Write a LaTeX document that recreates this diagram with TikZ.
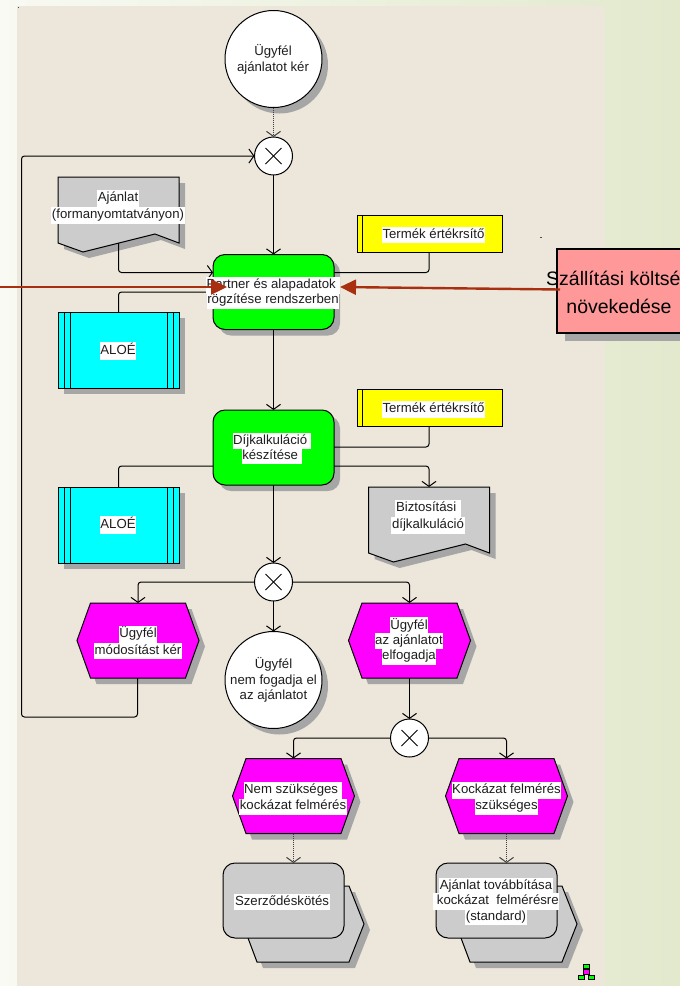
\documentclass[tikz,border=0pt]{standalone}
\usepackage{fontspec}
\setmainfont{Liberation Sans}
\usetikzlibrary{arrows.meta,shadows,calc}
\definecolor{canvasbeige}{HTML}{EDE7DB}
\definecolor{pagegreen}{HTML}{E2E9CD}
\definecolor{pagepale}{HTML}{F8FAF3}
\definecolor{shadowgray}{HTML}{A6A6A6}
\definecolor{docgray}{HTML}{CCCCCC}
\definecolor{txtdark}{HTML}{1E1E1E}
\definecolor{redline}{HTML}{A83010}
\definecolor{riskpink}{HTML}{FF9999}
\definecolor{purecyan}{RGB}{0,255,255}
\definecolor{puremagenta}{RGB}{255,0,255}
\definecolor{pureyellow}{RGB}{255,255,0}
\definecolor{puregreen}{RGB}{0,255,0}
\newcommand{\hl}[1]{{\setlength{\fboxsep}{0.6pt}\colorbox{white}{\strut #1}}}
\tikzset{
  x=1pt,y=-1pt,
  shdw/.style={drop shadow={shadow xshift=6pt,shadow yshift=-6pt,fill=shadowgray,opacity=1}},
  outline/.style={draw=black,line width=1pt},
  riskbox/.style={draw=black,line width=1.3pt,drop shadow={shadow xshift=8pt,shadow yshift=-8pt,fill=shadowgray,opacity=1},rectangle,inner sep=0pt,outer sep=0pt,fill=riskpink,minimum width=124pt,minimum height=84pt},
  plainnode/.style={rectangle,draw=none,inner sep=0pt,outer sep=0pt,minimum width=121pt,minimum height=75pt},
  eventcircle/.style={outline,shdw,circle,fill=white,minimum size=97pt,inner sep=0pt,outer sep=0pt},
  xorcircle/.style={outline,circle,fill=white,minimum size=38pt,inner sep=0pt,outer sep=0pt},
  funcbox/.style={outline,shdw,rectangle,rounded corners=12pt,fill=puregreen,minimum width=121pt,minimum height=75pt,inner sep=0pt,outer sep=0pt},
  stackbox/.style={outline,rectangle,rounded corners=12pt,fill=docgray,minimum width=121pt,minimum height=75pt,inner sep=0pt,outer sep=0pt},
  systembox/.style={outline,shdw,rectangle,fill=purecyan,minimum width=121pt,minimum height=76pt,inner sep=0pt,outer sep=0pt},
  orgbox/.style={outline,rectangle,fill=pureyellow,minimum width=145pt,minimum height=37pt,inner sep=0pt,outer sep=0pt},
  hexshape/.style={outline,shdw,fill=puremagenta},
  docshape/.style={outline,shdw,fill=docgray},
  stackshape/.style={outline,shdw,fill=docgray},
  lbl/.style={font=\fontsize{13.2}{15.5}\selectfont,text=txtdark,align=center,inner sep=0pt},
  biglbl/.style={font=\fontsize{19.5}{22}\selectfont,text=black,inner sep=0pt},
  conn/.style={draw=black,line width=1pt,rounded corners=3pt},
  arr/.style={conn,-{Straight Barb[length=5pt,width=14pt,line width=1pt]}},
  dotarr/.style={arr,draw=black!75,densely dotted,line width=0.7pt},
  redarr/.style={draw=redline,line width=2.4pt,-{Triangle[length=16pt,width=15pt,fill=redline]}},
  speck/.style={fill=black!70,draw=none}
}
\begin{document}
\begin{tikzpicture}
\useasboundingbox (0,0) rectangle (680,986);
\clip (0,0) rectangle (680,986);
\shade[left color=pagepale,right color=pagegreen] (0,0) rectangle (680,986);
\fill[canvasbeige] (17,6) rectangle (605,986);
\fill[speck] (17.5,6.5) rectangle (19,7.5);
\fill[speck] (540,237) rectangle (541.5,238);

\coordinate (loopA) at (137.5,678);
\coordinate (loopB) at (21.5,717);

% events and gateways
\node[eventcircle] (evstart) at (273.5,59) {};
\node[xorcircle] (xorone) at (273.5,156) {};
\node[funcbox] (funcone) at (273.5,292) {};
\node[funcbox] (functwo) at (273.5,447.5) {};
\node[orgbox] (orgone) at (429.5,233.5) {};
\node[orgbox] (orgtwo) at (429.5,408) {};
\draw[outline] (362.5,215) -- (362.5,252);
\draw[outline] (362.5,389.5) -- (362.5,426.5);
\node[systembox] (sysone) at (118.5,350) {};
\node[systembox] (systwo) at (118.5,525) {};
\foreach \yy in {350,525}{
  \draw[outline] (64.5,\yy-38) -- (64.5,\yy+38);
  \draw[outline] (70,\yy-38) -- (70,\yy+38);
  \draw[outline] (167.5,\yy-38) -- (167.5,\yy+38);
  \draw[outline] (173,\yy-38) -- (173,\yy+38);
}
% documents
\node[plainnode] (docone) at (118.5,214.5) {};
\draw[docshape,shift={(118.5,214.5)}] (-60.5,-37.5) -- (60.5,-37.5) -- (60.5,28.5) -- (36.5,19.5) -- (-35.5,37.5) -- (-60.5,28.5) -- cycle;
\node[plainnode] (doctwo) at (429,524.5) {};
\draw[docshape,shift={(429,524.5)}] (-60.5,-37.5) -- (60.5,-37.5) -- (60.5,28.5) -- (36.5,19.5) -- (-35.5,37.5) -- (-60.5,28.5) -- cycle;

\node[xorcircle] (xortwo) at (273.5,582) {};
\node[eventcircle] (evreject) at (273.5,680) {};
\node[xorcircle] (xorthree) at (409.5,738) {};

% hexagon events
\foreach \nm/\cx/\cy in {hexmod/138/640.5,hexacc/409.5/640.5,hexno/293.5/796,hexyes/506.5/796}{
  \node[plainnode] (\nm) at (\cx,\cy) {};
  \draw[hexshape,shift={(\cx,\cy)}] (-61,0) -- (-47.5,-37.5) -- (47.5,-37.5) -- (61,0) -- (47.5,37.5) -- (-47.5,37.5) -- cycle;
}

% process interfaces
\foreach \nm/\cx in {stackone/283.5,stacktwo/496.5}{
  \draw[stackshape,shift={(\cx,900.5)}] (-35.5,37.5) -- (-26.5,61.5) -- (65.5,61.5) -- (80.5,23.5) -- (65.5,-14.5) -- (50,-14.5) -- cycle;
  \node[stackbox] (\nm) at (\cx,900.5) {};
}

% named connector points
\coordinate (doconeout) at (118.5,243);
\coordinate (funconeWa) at (213,272.5);
\coordinate (funconeWb) at (213,292);
\coordinate (funconeEa) at (334,272.5);
\coordinate (functwoWa) at (213,466);
\coordinate (functwoEa) at (334,447);
\coordinate (functwoEb) at (334,466);
\coordinate (orgoneout) at (429,252);
\coordinate (orgtwoout) at (429,426.5);

% connectors
\draw[dotarr] (evstart.south) -- (xorone.north);
\draw[arr] (xorone.south) -- (funcone.north);
\draw[arr] (funcone.south) -- (functwo.north);
\draw[arr] (functwo.south) -- (xortwo.north);
\draw[arr] (xortwo.south) -- (evreject.north);
\draw[arr] (doconeout) |- (funconeWa);
\draw[conn] (sysone.north) |- (funconeWb);
\draw[conn] (systwo.north) |- (functwoWa);
\draw[conn] (orgoneout) |- (funconeEa);
\draw[conn] (orgtwoout) |- (functwoEa);
\draw[arr] (functwoEb) -| (doctwo.north);
\draw[arr] (xortwo.west) -| (hexmod.north);
\draw[arr] (xortwo.east) -| (hexacc.north);
\draw[arr] (hexacc.south) -- (xorthree.north);
\draw[arr] (xorthree.west) -| (hexno.north);
\draw[arr] (xorthree.east) -| (hexyes.north);
\draw[dotarr] (hexno.south) -- (hexno.south |- stackone.north);
\draw[dotarr] (hexyes.south) -- (hexyes.south |- stacktwo.north);
\draw[arr] (loopA) |- (loopB) |- (xorone.west);

% labels
\node[lbl] (tstart) at (273,59.5) {Ügyfél\\ajánlatot kér};
\node[lbl] (tdocone) at (118,207) {\hl{Ajánlat}\\[-1pt]\hl{(formanyomtatványon)}};
\node[lbl] (tfuncone) at (273,293) {\hl{Partner és alapadatok\ }\\[-2.5pt]\hl{rögzítése rendszerben}};
\node[lbl] (torgone) at (433.5,235) {\hl{Termék értékrsítő}};
\node[lbl] (torgtwo) at (433.5,409.5) {\hl{Termék értékrsítő}};
\node[lbl] (tsysone) at (118,351) {\hl{ALOÉ}};
\node[lbl] (tsystwo) at (118,525) {\hl{ALOÉ}};
\node[lbl] (tfunctwo) at (272,448.5) {\hl{Díjkalkuláció\ }\\[-2.5pt]\hl{készítése\ }};
\node[lbl] (tdoctwo) at (428,517) {\hl{Biztosítási\ }\\[-1pt]\hl{díjkalkuláció}};
\node[lbl] (thexmod) at (138,642.5) {\hl{Ügyfél}\\[-1pt]\hl{módosítást kér}};
\node[lbl] (thexacc) at (409,641) {\hl{Ügyfél}\\[-2.5pt]\hl{az ajánlatot}\\[-2.5pt]\hl{elfogadja}};
\node[lbl] (trej) at (273.5,680) {Ügyfél\\nem fogadja el\\az ajánlatot};
\node[lbl] (thexno) at (293,798.5) {\hl{Nem szükséges\ }\\[-1pt]\hl{kockázat felmérés}};
\node[lbl] (thexyes) at (506.5,798.5) {\hl{Kockázat felmérés}\\[-1pt]\hl{szükséges}};
\node[lbl] (tstackone) at (282,902) {\hl{Szerződéskötés}};
\node[lbl] (tstacktwo) at (496,901.5) {\hl{Ajánlat továbbítása}\\[-2pt]\hl{\ kockázat\ \ felmérésre}\\[-2.5pt]\hl{(standard)}};

% X marks in gateways
\foreach \nm in {xorone,xortwo,xorthree}{
  \draw[line width=0.8pt] ($(\nm)+(-8,-8)$) -- ($(\nm)+(8,8)$);
  \draw[line width=0.8pt] ($(\nm)+(-8,8)$) -- ($(\nm)+(8,-8)$);
}

% risk box
\node[riskbox] (risk) at (619,291) {};
\node[biglbl,anchor=west] (trisk) at (546,278) {Szállítási költsé};
\node[biglbl] (trisktwo) at (619,306) {növekedése};

% red arrows
\coordinate (redLstart) at (0,287);
\coordinate (redLend) at (227,287);
\coordinate (redRstart) at (560,289.5);
\coordinate (redRend) at (340,287);
\draw[redarr] (redLstart) -- (redLend);
\draw[redarr] (redRstart) -- (redRend);

% model icon
\draw[black,line width=0.4pt,fill=puregreen] (583.5,964.5) rectangle (589.5,968.5);
\draw[black,line width=0.4pt,fill=puremagenta] (583.5,969.5) rectangle (589.5,974);
\draw[black,line width=0.4pt,fill=puregreen] (578.5,975) rectangle (584.5,979);
\draw[black,line width=0.4pt,fill=puregreen] (588.5,975) rectangle (594.5,979);
\end{tikzpicture}
\end{document}
